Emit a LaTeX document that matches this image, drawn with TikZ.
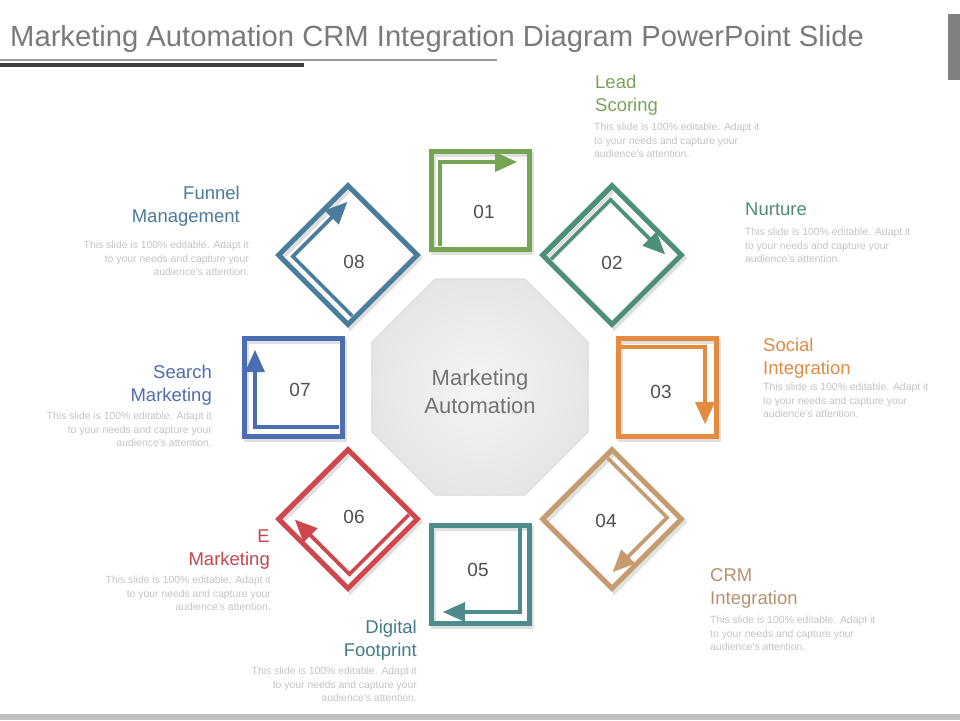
\documentclass[tikz,border=0pt]{standalone}
\usepackage{fontspec}
\setmainfont{Liberation Sans}
\usetikzlibrary{shapes.geometric}
\definecolor{cA}{HTML}{74A552}
\definecolor{cB}{HTML}{4C9177}
\definecolor{cC}{HTML}{E58B3F}
\definecolor{cD}{HTML}{C59C70}
\definecolor{cE}{HTML}{4D8B8C}
\definecolor{cF}{HTML}{CF474D}
\definecolor{cG}{HTML}{4A6DB4}
\definecolor{cH}{HTML}{4A7C9E}
\definecolor{lA}{HTML}{7AA35A}
\definecolor{lB}{HTML}{4F8D77}
\definecolor{lC}{HTML}{DE8B44}
\definecolor{lD}{HTML}{B5926D}
\definecolor{lE}{HTML}{457D87}
\definecolor{lF}{HTML}{C4474D}
\definecolor{lG}{HTML}{4F6CAE}
\definecolor{lH}{HTML}{4D7A98}
\definecolor{titlegray}{HTML}{7A7A7A}
\definecolor{descgray}{HTML}{C4C4C4}
\definecolor{numgray}{HTML}{505050}
\tikzset{
  framebox/.style={line width=5pt, line join=miter},
  arrowline/.style={line width=3.6pt},
  shadowed/.style={black, opacity=0.12},
  numtext/.style={font=\fontsize{19}{22}\selectfont, text=numgray, inner sep=0pt},
  headtext/.style={font=\fontsize{18.5}{23}\selectfont, inner sep=0pt},
  desctext/.style={font=\fontsize{10.4}{13.5}\selectfont, text=descgray, inner sep=0pt},
}
\begin{document}
\begin{tikzpicture}[x=1pt,y=-1pt]
\useasboundingbox (0,0) rectangle (960,720);
\fill[white] (0,0) rectangle (960,720);
% title
\node[anchor=base west, inner sep=0pt, font=\fontsize{29.2}{32}\selectfont, text=titlegray] (title) at (10,46) {Marketing Automation CRM Integration Diagram PowerPoint Slide};
\fill[gray!80] (0,59) rectangle (497,61);
\fill[black!75] (0,63) rectangle (304,67);
\fill[black!50] (948,14) rectangle (960,80);
\fill[black!25] (0,714) rectangle (960,720);
% centre
\node[regular polygon, regular polygon sides=8, minimum size=234pt, inner sep=0pt,
      inner color=black!4, outer color=black!10, draw=black!15, line width=1pt] (centre) at (480,387) {};
\node[align=center, text=black!55, font=\fontsize{22}{28}\selectfont, inner sep=0pt] (centretext) at (480,392) {Marketing\\Automation};
% elements
\foreach \k/\c/\cx/\cy/\t/\nx/\ny in {0/cA/480/200/01/484/212, 1/cB/612/255/02/612/263, 2/cC/667/387/03/661/392, 3/cD/612/519/04/606/521,
                              4/cE/480/574/05/478/570, 5/cF/348/519/06/354/517, 6/cG/293/387/07/300/390, 7/cH/348/255/08/354/262}{
  \begin{scope}[shift={(\cx+2.5,\cy+3)}, rotate=-45*\k, shadowed]
    \draw[framebox] (-49,-49) rectangle (49,49);
  \end{scope}
  \begin{scope}[shift={(\cx,\cy)}, rotate=-45*\k]
    \draw[framebox, draw=\c] (-49,-49) rectangle (49,49);
    \draw[arrowline, draw=\c] (-40,46) -- (-40,-38) -- (18,-38);
    \fill[\c] (15,-48) -- (37,-38) -- (15,-28) -- cycle;
  \end{scope}
  \node[numtext] (n\t) at (\nx,\ny) {\t};
}
% labels (base anchor = baseline of the last line)
\node[headtext, text=lA, align=left, anchor=base west] (hA) at (595,111.5) {Lead\\Scoring};
\node[desctext, align=left, anchor=base west] (dA) at (594,157.5) {This slide is 100\% editable. Adapt it\\to your needs and capture your\\audience's attention.};
\node[headtext, text=lB, align=left, anchor=base west] (hB) at (745,215.5) {Nurture};
\node[desctext, align=left, anchor=base west] (dB) at (745,262.5) {This slide is 100\% editable. Adapt it\\to your needs and capture your\\audience's attention.};
\node[headtext, text=lC, align=left, anchor=base west] (hC) at (763,374.5) {Social\\Integration};
\node[desctext, align=left, anchor=base west] (dC) at (763,417.5) {This slide is 100\% editable. Adapt it\\to your needs and capture your\\audience's attention.};
\node[headtext, text=lD, align=left, anchor=base west] (hD) at (710,604.5) {CRM\\Integration};
\node[desctext, align=left, anchor=base west] (dD) at (710,650.5) {This slide is 100\% editable. Adapt it\\to your needs and capture your\\audience's attention.};
\node[headtext, text=lE, align=right, anchor=base east] (hE) at (417,656.5) {Digital\\Footprint};
\node[desctext, align=right, anchor=base east] (dE) at (417,701.5) {This slide is 100\% editable. Adapt it\\to your needs and capture your\\audience's attention.};
\node[headtext, text=lF, align=right, anchor=base east] (hF) at (270,565.5) {E\\Marketing};
\node[desctext, align=right, anchor=base east] (dF) at (271,610.5) {This slide is 100\% editable. Adapt it\\to your needs and capture your\\audience's attention.};
\node[headtext, text=lG, align=right, anchor=base east] (hG) at (212,401.5) {Search\\Marketing};
\node[desctext, align=right, anchor=base east] (dG) at (212,446.5) {This slide is 100\% editable. Adapt it\\to your needs and capture your\\audience's attention.};
\node[headtext, text=lH, align=right, anchor=base east] (hH) at (240,222.5) {Funnel\\Management};
\node[desctext, align=right, anchor=base east] (dH) at (249,275.5) {This slide is 100\% editable. Adapt it\\to your needs and capture your\\audience's attention.};
\end{tikzpicture}
\end{document}
